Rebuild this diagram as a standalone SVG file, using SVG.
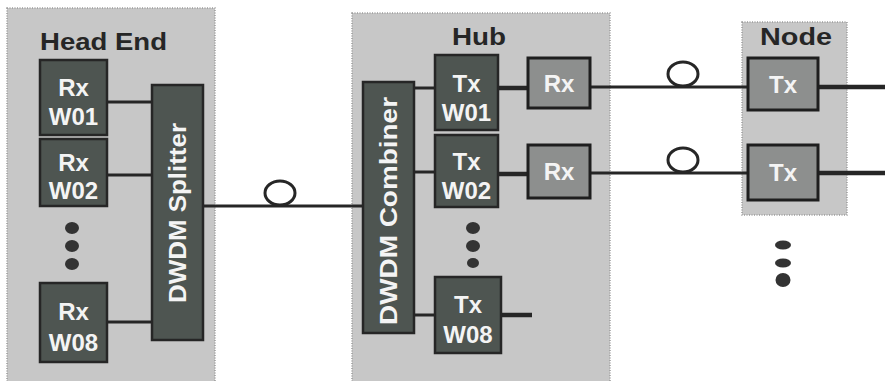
<svg xmlns="http://www.w3.org/2000/svg" width="885" height="381" viewBox="0 0 885 381">
<style>
.panel{fill:#c7c7c7;stroke:#9a9a9a;stroke-width:1.5;stroke-dasharray:1 1.5}
.dark{fill:#4e5551;stroke:#262626;stroke-width:2.5}
.mid{fill:#8d8f8e;stroke:#1e1e1e;stroke-width:3}
.lbl{font-family:"Liberation Sans",Arial,sans-serif;font-weight:bold;font-size:23px;fill:#262626}
.bt{font-family:"Liberation Sans",Arial,sans-serif;font-weight:bold;font-size:24px;fill:#f4f4f4;text-anchor:middle}
.ln{stroke:#262626;stroke-width:3;fill:none}
.thk{stroke:#262626;stroke-width:4.5;fill:none}
.loop{stroke:#262626;stroke-width:3;fill:#ffffff}
.dot{fill:#333}
</style>
<rect width="885" height="381" fill="#ffffff"/>
<g id="headend">
<rect class="panel" x="7" y="8" width="208" height="380"/>
<text class="lbl" x="40" y="50" textLength="127" lengthAdjust="spacingAndGlyphs">Head End</text>
</g>
<g id="hub">
<rect class="panel" x="352" y="13" width="258" height="375"/>
<text class="lbl" x="479" y="45" text-anchor="middle" textLength="54" lengthAdjust="spacingAndGlyphs">Hub</text>
</g>
<g id="node">
<rect class="panel" x="742" y="22" width="105" height="193"/>
<text class="lbl" x="796" y="45" text-anchor="middle" textLength="72" lengthAdjust="spacingAndGlyphs">Node</text>
</g>
<g id="connectors">
<line class="ln" x1="107" y1="102" x2="152" y2="102"/>
<line class="ln" x1="107" y1="175" x2="152" y2="175"/>
<line class="ln" x1="107" y1="322" x2="152" y2="322"/>
<line class="ln" x1="203" y1="206" x2="363" y2="206"/>
<line class="ln" x1="414" y1="88" x2="435" y2="88"/>
<line class="ln" x1="414" y1="172" x2="435" y2="172"/>
<line class="ln" x1="414" y1="315" x2="435" y2="315"/>
<line class="thk" x1="498" y1="88" x2="528" y2="88"/>
<line class="thk" x1="498" y1="174" x2="528" y2="174"/>
<line class="thk" x1="501" y1="315" x2="532" y2="315"/>
<line class="ln" x1="590" y1="87" x2="748" y2="87"/>
<line class="ln" x1="590" y1="173" x2="748" y2="173"/>
<line class="thk" x1="818" y1="87" x2="885" y2="87"/>
<line class="thk" x1="818" y1="173" x2="885" y2="173"/>
<ellipse class="loop" cx="280" cy="193" rx="15" ry="12"/>
<ellipse class="loop" cx="683" cy="74" rx="15" ry="12"/>
<ellipse class="loop" cx="683" cy="160" rx="15" ry="12"/>
</g>
<g id="rx-w01"><rect class="dark" x="40" y="60" width="67" height="75"/><text class="bt" x="73.5" y="96">Rx</text><text class="bt" x="73.5" y="125">W01</text></g>
<g id="rx-w02"><rect class="dark" x="40" y="139" width="67" height="67"/><text class="bt" x="73.5" y="171">Rx</text><text class="bt" x="73.5" y="199">W02</text></g>
<g id="rx-dots"><ellipse class="dot" cx="72" cy="228" rx="7" ry="6"/><ellipse class="dot" cx="72" cy="246" rx="7" ry="6"/><ellipse class="dot" cx="72" cy="264" rx="7" ry="6"/></g>
<g id="rx-w08"><rect class="dark" x="40" y="283" width="67" height="79"/><text class="bt" x="73.5" y="320">Rx</text><text class="bt" x="73.5" y="351">W08</text></g>
<g id="splitter"><rect class="dark" x="152" y="85" width="51" height="255"/><text class="bt" transform="translate(186,213) rotate(-90)" x="0" y="0" textLength="180" lengthAdjust="spacingAndGlyphs">DWDM Splitter</text></g>
<g id="combiner"><rect class="dark" x="363" y="82" width="51" height="251"/><text class="bt" transform="translate(397,211) rotate(-90)" x="0" y="0" textLength="228" lengthAdjust="spacingAndGlyphs">DWDM Combiner</text></g>
<g id="tx-w01"><rect class="dark" x="435" y="55" width="63" height="75"/><text class="bt" x="466.5" y="92">Tx</text><text class="bt" x="466.5" y="121">W01</text></g>
<g id="tx-w02"><rect class="dark" x="435" y="135" width="63" height="72"/><text class="bt" x="466.5" y="170">Tx</text><text class="bt" x="466.5" y="199">W02</text></g>
<g id="tx-dots"><ellipse class="dot" cx="473" cy="228" rx="7" ry="6"/><ellipse class="dot" cx="473" cy="246" rx="7" ry="6"/><ellipse class="dot" cx="473" cy="263" rx="6" ry="5"/></g>
<g id="tx-w08"><rect class="dark" x="435" y="277" width="66" height="76"/><text class="bt" x="468" y="313">Tx</text><text class="bt" x="468" y="343">W08</text></g>
<g id="hub-rx1"><rect class="mid" x="528" y="58" width="62" height="50"/><text class="bt" x="559" y="92">Rx</text></g>
<g id="hub-rx2"><rect class="mid" x="528" y="145" width="62" height="53"/><text class="bt" x="559" y="180">Rx</text></g>
<g id="node-tx1"><rect class="mid" x="748" y="58" width="70" height="52"/><text class="bt" x="783" y="93">Tx</text></g>
<g id="node-tx2"><rect class="mid" x="748" y="145" width="70" height="55"/><text class="bt" x="783" y="181">Tx</text></g>
<g id="node-dots"><ellipse class="dot" cx="783" cy="245" rx="8" ry="4.5"/><ellipse class="dot" cx="783" cy="263" rx="8" ry="4.5"/><ellipse class="dot" cx="783" cy="280" rx="7.5" ry="7"/></g>
</svg>
